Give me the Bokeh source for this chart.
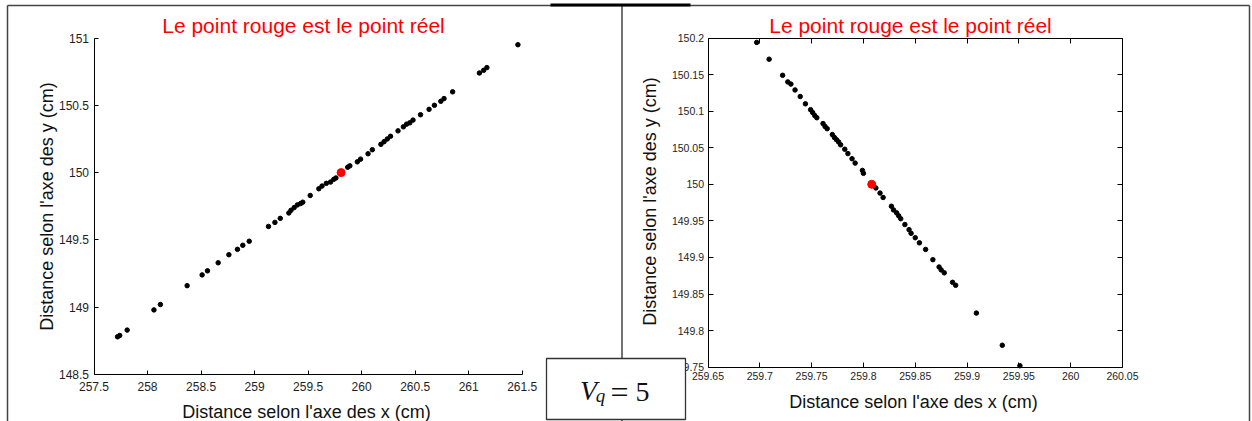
import math
from bokeh.plotting import figure
from bokeh.models import (Range1d, LinearAxis, FixedTicker, PrintfTickFormatter,
                          CustomJSTickFormatter, Label, ColumnDataSource)
from bokeh.embed import file_html
from bokeh.resources import INLINE
from bokeh.core.properties import value

# ---------------- data ----------------
TITLE = "Le point rouge est le point réel"
XLABEL = "Distance selon l'axe des x (cm)"
YLABEL = "Distance selon l'axe des y (cm)"

LEFT_X = [257.72, 257.74, 257.81, 258.06, 258.12, 258.37, 258.51, 258.56, 258.66, 258.76,
          258.84, 258.89, 258.95, 259.13, 259.19, 259.24, 259.32, 259.34, 259.37, 259.40,
          259.43, 259.45, 259.52, 259.60, 259.63, 259.67, 259.71, 259.74, 259.76, 259.87,
          259.89, 259.96, 259.99, 260.06, 260.10, 260.18, 260.21, 260.24, 260.27, 260.34,
          260.39, 260.42, 260.45, 260.48, 260.55, 260.63, 260.68, 260.74, 260.77, 260.85,
          261.10, 261.14, 261.17, 261.46]
LEFT_Y = [148.78, 148.79, 148.83, 148.98, 149.02, 149.16, 149.24, 149.27, 149.33, 149.39,
          149.43, 149.46, 149.49, 149.60, 149.63, 149.66, 149.70, 149.72, 149.74, 149.76,
          149.77, 149.78, 149.83, 149.88, 149.90, 149.92, 149.93, 149.95, 149.96, 150.04,
          150.05, 150.08, 150.10, 150.14, 150.17, 150.21, 150.23, 150.25, 150.27, 150.31,
          150.34, 150.36, 150.37, 150.39, 150.43, 150.47, 150.50, 150.53, 150.55, 150.60,
          150.74, 150.76, 150.78, 150.95]

RIGHT_X = [259.697, 259.709, 259.722, 259.727, 259.730, 259.734, 259.739, 259.744, 259.749,
           259.751, 259.753, 259.755, 259.761, 259.763, 259.765, 259.770, 259.772, 259.774,
           259.776, 259.778, 259.782, 259.785, 259.789, 259.792, 259.799, 259.800, 259.812,
           259.816, 259.819, 259.827, 259.829, 259.832, 259.834, 259.836, 259.840, 259.844,
           259.846, 259.850, 259.854, 259.860, 259.867, 259.873, 259.875, 259.878, 259.886,
           259.889, 259.909, 259.934, 259.951]
RIGHT_Y = [150.194, 150.171, 150.149, 150.140, 150.137, 150.129, 150.120, 150.110, 150.102,
           150.098, 150.094, 150.091, 150.083, 150.079, 150.076, 150.068, 150.064, 150.061,
           150.058, 150.054, 150.048, 150.042, 150.035, 150.029, 150.019, 150.015, 149.995,
           149.988, 149.982, 149.970, 149.965, 149.961, 149.957, 149.953, 149.945, 149.938,
           149.933, 149.927, 149.920, 149.911, 149.897, 149.887, 149.883, 149.879, 149.866,
           149.862, 149.824, 149.780, 149.752]

REAL_X = [259.808]
REAL_Y = [150.0]

LEFT_XTICKS = [257.5, 258, 258.5, 259, 259.5, 260, 260.5, 261, 261.5]
LEFT_YTICKS = [148.5, 149, 149.5, 150, 150.5, 151]
RIGHT_XTICKS = [259.65, 259.7, 259.75, 259.8, 259.85, 259.9, 259.95, 260, 260.05]
RIGHT_YTICKS = [149.75, 149.8, 149.85, 149.9, 149.95, 150, 150.05, 150.1, 150.15, 150.2]

VQ_MAIN, VQ_SUB, VQ_EQ, VQ_VAL = "V", "q", "=", "5"

# ---------------- layout ----------------
W, H = 1252, 421
FONT = "Liberation Sans"

p = figure(width=W, height=H, x_range=Range1d(0, W), y_range=Range1d(H, 0),
           x_axis_type=None, y_axis_type=None, toolbar_location=None,
           output_backend="svg", min_border=0, outline_line_color=None, title=None,
           background_fill_color="white", border_fill_color="white")


def xr(v0, v1, p0, p1):
    s = (v1 - v0) / (p1 - p0)
    start = v0 - p0 * s
    return Range1d(start, start + W * s)


def yr(v_top, v_bot, p_top, p_bot):
    s = (v_top - v_bot) / (p_bot - p_top)
    end = v_top + p_top * s
    return Range1d(end - H * s, end)


p.extra_x_ranges = {"lx": xr(257.5, 261.5, 93.5, 521.7), "rx": xr(259.65, 260.05, 707.5, 1122.0)}
p.extra_y_ranges = {"ly": yr(151, 148.5, 37.5, 374.0), "ry": yr(150.2, 149.75, 37.5, 366.7)}


def add_axis(side, xn, yn, loc, bounds, ticks, labels, fs, standoff, tin):
    fmt = PrintfTickFormatter(format="%g") if labels else CustomJSTickFormatter(code="return ''")
    ax = LinearAxis(x_range_name=xn, y_range_name=yn, fixed_location=loc, bounds=bounds,
                    ticker=FixedTicker(ticks=ticks), formatter=fmt,
                    major_tick_in=tin, major_tick_out=0, minor_tick_in=0, minor_tick_out=0,
                    axis_line_color="black", axis_line_width=1,
                    major_tick_line_color="black", major_tick_line_width=1,
                    major_label_text_font=FONT, major_label_text_font_size=fs,
                    major_label_text_color="#1e1e1e", major_label_standoff=standoff)
    p.add_layout(ax, side)
    return ax


# left plot: L-shaped axes
add_axis("below", "lx", "ly", LEFT_YTICKS[0], (LEFT_XTICKS[0], LEFT_XTICKS[-1]), LEFT_XTICKS, True, "12px", 7, 4)
add_axis("left", "lx", "ly", LEFT_XTICKS[0], (LEFT_YTICKS[0], LEFT_YTICKS[-1]), LEFT_YTICKS, True, "12px", 5, 4)

# right plot: boxed axes
add_axis("below", "rx", "ry", RIGHT_YTICKS[0], (RIGHT_XTICKS[0], RIGHT_XTICKS[-1]), RIGHT_XTICKS, True, "10.5px", 5, 5)
add_axis("left", "rx", "ry", RIGHT_XTICKS[0], (RIGHT_YTICKS[0], RIGHT_YTICKS[-1]), RIGHT_YTICKS, True, "10.5px", 4, 5)
add_axis("above", "rx", "ry", RIGHT_YTICKS[-1], (RIGHT_XTICKS[0], RIGHT_XTICKS[-1]), RIGHT_XTICKS, False, "10.5px", 4, 5)
add_axis("right", "rx", "ry", RIGHT_XTICKS[-1], (RIGHT_YTICKS[0], RIGHT_YTICKS[-1]), RIGHT_YTICKS, False, "10.5px", 4, 5)

# points
p.scatter(x="x", y="y", source=ColumnDataSource(dict(x=LEFT_X, y=LEFT_Y)),
          x_range_name="lx", y_range_name="ly", size=4.5, marker="circle",
          fill_color="black", line_color="black")
p.scatter(x="x", y="y", source=ColumnDataSource(dict(x=REAL_X, y=REAL_Y)),
          x_range_name="lx", y_range_name="ly", size=8, marker="circle",
          fill_color="#ff0000", line_color="#ff0000")
p.scatter(x="x", y="y", source=ColumnDataSource(dict(x=RIGHT_X, y=RIGHT_Y)),
          x_range_name="rx", y_range_name="ry", size=4.5, marker="circle",
          fill_color="black", line_color="black")
p.scatter(x="x", y="y", source=ColumnDataSource(dict(x=REAL_X, y=REAL_Y)),
          x_range_name="rx", y_range_name="ry", size=8, marker="circle",
          fill_color="#ff0000", line_color="#ff0000")

# page frame (pixel coordinates)
p.segment(x0=[7, 7, 1249, 621.5], y0=[5, 5, 5, 5], x1=[1249, 7, 1249, 621.5], y1=[5, 421, 421, 421],
          line_color="#444444", line_width=1.5)
p.segment(x0=[550], y0=[4.5], x1=[690], y1=[4.5], line_color="black", line_width=3)

# titles and axis titles
for cx in (303, 910):
    p.add_layout(Label(x=cx, y=25, text=TITLE, text_color="#ff0000", text_font=FONT,
                       text_font_size="21px", text_align="center", text_baseline="alphabetic"))
p.add_layout(Label(x=306, y=411, text=XLABEL, text_color="#111111", text_font=FONT,
                   text_font_size="18px", text_align="center", text_baseline="alphabetic"))
p.add_layout(Label(x=913, y=401, text=XLABEL, text_color="#111111", text_font=FONT,
                   text_font_size="18px", text_align="center", text_baseline="alphabetic"))
p.add_layout(Label(x=46.5, y=206, text=YLABEL, angle=math.pi / 2, text_color="#111111",
                   text_font=FONT, text_font_size="18px", text_align="center",
                   text_baseline="alphabetic"))
p.add_layout(Label(x=649.5, y=201, text=YLABEL, angle=math.pi / 2, text_color="#111111",
                   text_font=FONT, text_font_size="18px", text_align="center",
                   text_baseline="alphabetic"))

# V_q = 5 box
p.quad(left=[546], right=[685], top=[358], bottom=[419], fill_color="white",
       line_color="#333333", line_width=1.3, level="overlay")
p.text(x=[588], y=[390], text=[VQ_MAIN], text_font=value("Liberation Serif"),
       text_font_style="italic", text_font_size="28px", text_align="center",
       text_baseline="alphabetic", text_color="#111111", level="overlay")
p.text(x=[600], y=[395], text=[VQ_SUB], text_font=value("Liberation Serif"),
       text_font_style="italic", text_font_size="19px", text_align="center",
       text_baseline="alphabetic", text_color="#111111", level="overlay")
p.text(x=[619], y=[391], text=[VQ_EQ], text_font=value("Liberation Serif"),
       text_font_size="32px", text_align="center",
       text_baseline="alphabetic", text_color="#111111", level="overlay")
p.text(x=[642], y=[391], text=[VQ_VAL], text_font=value("Liberation Serif"),
       text_font_size="28px", text_align="center",
       text_baseline="alphabetic", text_color="#111111", level="overlay")

open("out.html", "w").write(file_html(p, INLINE))
